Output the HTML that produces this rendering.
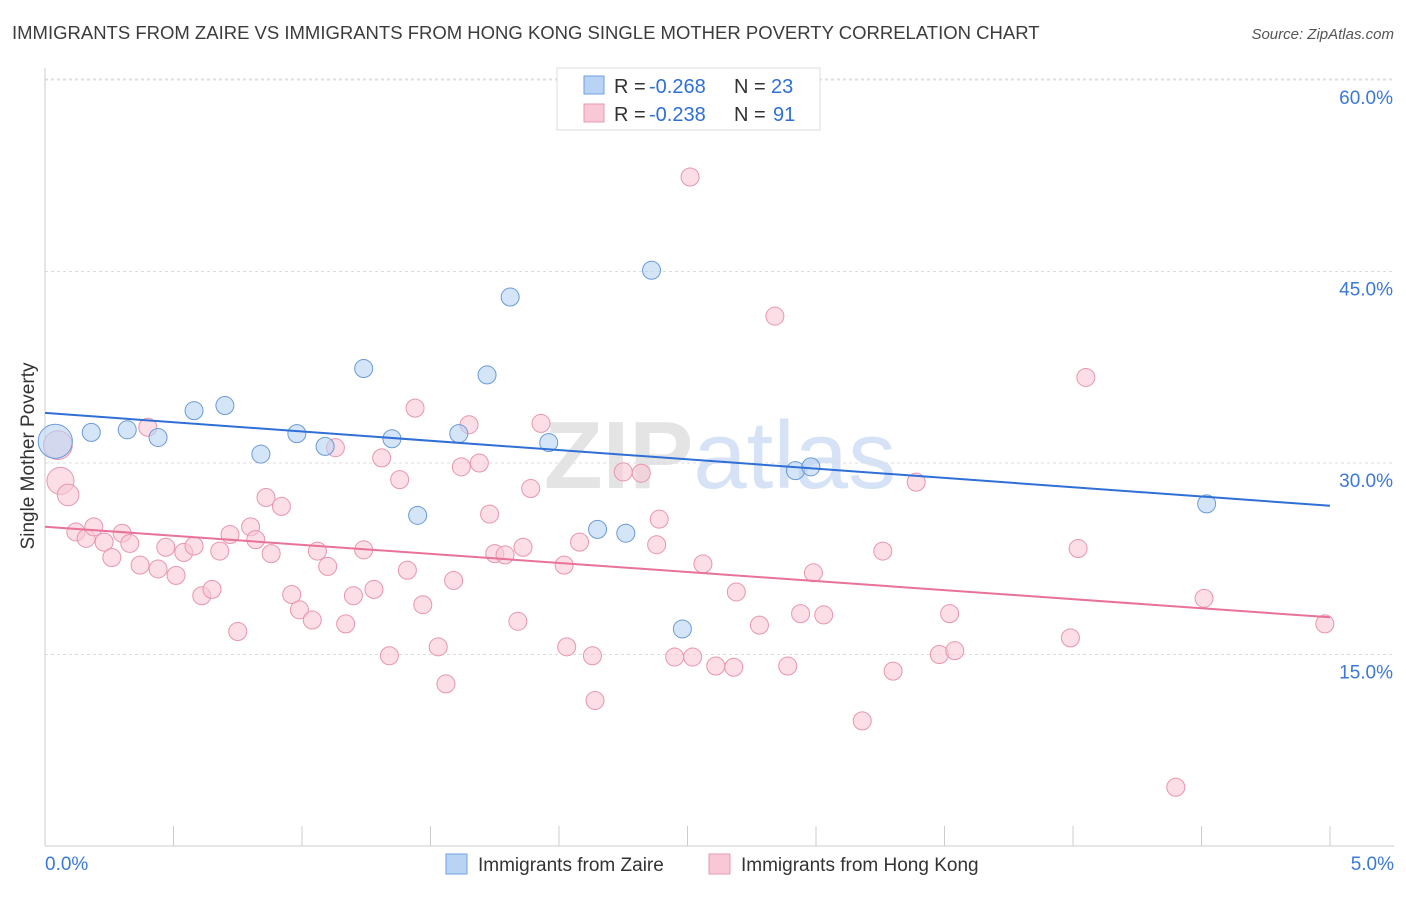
<!DOCTYPE html>
<html><head><meta charset="utf-8"><style>
body{margin:0;background:#fff;font-family:"Liberation Sans",sans-serif;}
svg text{font-family:"Liberation Sans",sans-serif;}
</style></head><body>
<svg id="chart" width="1406" height="892" xmlns="http://www.w3.org/2000/svg">
<text x="12" y="39" font-size="18.5" fill="#3c3c3c">IMMIGRANTS FROM ZAIRE VS IMMIGRANTS FROM HONG KONG SINGLE MOTHER POVERTY CORRELATION CHART</text>
<text x="1394" y="39" font-size="15" fill="#555" font-style="italic" text-anchor="end">Source: ZipAtlas.com</text>
<text x="720" y="488" font-size="96" fill="#e4e4e4" text-anchor="middle" font-family="Liberation Serif"><tspan font-weight="bold">ZIP</tspan><tspan fill="#d6e2f5" font-family="Liberation Sans">atlas</tspan></text>
<g id="grid"></g><g id="axes"></g><g id="pts"></g><g id="lines"></g>
<text transform="translate(34,456) rotate(-90)" font-size="19" fill="#333" text-anchor="middle">Single Mother Poverty</text>
<g>
<rect x="557" y="68" width="263" height="62" fill="#fff" stroke="#ddd"/>
<rect x="584" y="76" width="20" height="18" fill="#b9d3f4" stroke="#6fa0e0"/>
<rect x="584" y="104" width="20" height="18" fill="#f9c8d6" stroke="#e89ab2"/>
<text x="614" y="93" font-size="20" fill="#333">R = </text><text x="649" y="93" font-size="20" fill="#2f6fd6">-0.268</text>
<text x="734" y="93" font-size="20" fill="#333">N = </text><text x="771" y="93" font-size="20" fill="#2f6fd6">23</text>
<text x="614" y="121" font-size="20" fill="#333">R = </text><text x="649" y="121" font-size="20" fill="#2f6fd6">-0.238</text>
<text x="734" y="121" font-size="20" fill="#333">N = </text><text x="773" y="121" font-size="20" fill="#2f6fd6">91</text>
</g>
<g>
<rect x="446" y="854" width="21" height="20" fill="#b9d3f4" stroke="#6fa0e0"/>
<text x="478" y="871" font-size="19" fill="#333">Immigrants from Zaire</text>
<rect x="709" y="854" width="21" height="20" fill="#f9c8d6" stroke="#e89ab2"/>
<text x="741" y="871" font-size="19" fill="#333">Immigrants from Hong Kong</text>
</g>
</svg>
<script>
const xTicks=[0,0.5,1,1.5,2,2.5,3,3.5,4,4.5,5];
const yTicks=[15,30,45,60];
const zaireX=[0.04,0.18,0.32,0.44,0.58,0.7,0.84,0.98,1.09,1.24,1.35,1.45,1.61,1.72,1.81,1.96,2.15,2.26,2.36,2.48,2.92,2.98,4.52];
const zaireY=[31.7,32.4,32.6,32.0,34.1,34.5,30.7,32.3,31.3,37.4,31.9,25.9,32.3,36.9,43.0,31.6,24.8,24.5,45.1,17.0,29.4,29.7,26.8];
const hkX=[0.05,0.06,0.09,0.12,0.16,0.19,0.23,0.26,0.3,0.33,0.37,0.4,0.44,0.47,0.51,0.54,0.58,0.61,0.65,0.68,0.72,0.75,0.8,0.82,0.86,0.88,0.92,0.96,0.99,1.04,1.06,1.1,1.13,1.17,1.2,1.24,1.28,1.31,1.34,1.38,1.41,1.44,1.47,1.53,1.56,1.59,1.62,1.65,1.69,1.73,1.75,1.79,1.84,1.86,1.89,1.93,2.02,2.03,2.08,2.13,2.14,2.25,2.32,2.38,2.39,2.45,2.51,2.52,2.56,2.61,2.68,2.69,2.78,2.84,2.89,2.99,2.94,3.03,3.18,3.26,3.30,3.39,3.48,3.52,3.54,3.99,4.02,4.05,4.40,4.51,4.98];
const hkY=[31.4,28.6,27.5,24.6,24.1,25.0,23.8,22.6,24.5,23.7,22.0,32.8,21.7,23.4,21.2,23.0,23.5,19.6,20.1,23.1,24.4,16.8,25.0,24.0,27.3,22.9,26.6,19.7,18.5,17.7,23.1,21.9,31.2,17.4,19.6,23.2,20.1,30.4,14.9,28.7,21.6,34.3,18.9,15.6,12.7,20.8,29.7,33.0,30.0,26.0,22.9,22.8,17.6,23.4,28.0,33.1,22.0,15.6,23.8,14.9,11.4,29.3,29.2,23.6,25.6,14.8,52.4,14.8,22.1,14.1,14.0,19.9,17.3,41.5,14.1,21.4,18.2,18.1,9.8,23.1,13.7,28.5,15.0,18.2,15.3,16.3,23.3,36.7,4.6,19.4,17.4];
const sizes0={0:1.9}, sizes1={0:1.6,1:1.5,2:1.2};
const X0=45,X1=1330,YB=846,YS=191.5/15;
const xs=v=>X0+(X1-X0)*v/5, ys=v=>YB-v*YS;
const NS="http://www.w3.org/2000/svg";
function mk(tag,attrs,parent){const e=document.createElementNS(NS,tag);for(const k in attrs)e.setAttribute(k,attrs[k]);parent.appendChild(e);return e;}
const grid=document.getElementById('grid'),axes=document.getElementById('axes');
yTicks.forEach(t=>{
 const l=mk('line',{x1:45,x2:1394,y1:ys(t),y2:ys(t),stroke:'#ddd','stroke-dasharray':'3,3'},grid);
 
 
 const tx=mk('text',{x:1393,y:ys(t)+24,'font-size':19,fill:'#3b78d8','text-anchor':'end'},axes);
 tx.textContent=t.toFixed(1)+'%';
 
 
});
const topg=mk('line',{x1:45,x2:1394,y1:79,y2:79,stroke:'#ddd','stroke-dasharray':'3,3'},grid);


const ax=mk('line',{x1:45,x2:1394,y1:846,y2:846,stroke:'#ccc'},axes);


const ay=mk('line',{x1:45,x2:45,y1:68,y2:846,stroke:'#ccc'},axes);


xTicks.forEach(t=>{
 const l=mk('line',{x1:xs(t),x2:xs(t),y1:826,y2:846,stroke:'#ccc'},axes);
 
 
});
[[0,'start',45],[5,'end',1394]].forEach(([v,a,x])=>{
 const tx=mk('text',{x:x,y:870,'font-size':19,fill:'#3b78d8','text-anchor':a},axes);
 tx.textContent=v.toFixed(1)+'%';
 
 
});
const pts=document.getElementById('pts');
hkX.forEach((v,i)=>{
 const r=9*(sizes1[i]||1);
 const c=mk('circle',{cx:xs(v),cy:ys(hkY[i]),r:r,fill:'#f9c8d6','fill-opacity':0.6,stroke:'#e995b0','stroke-width':1},pts);
 
 
});
zaireX.forEach((v,i)=>{
 const r=9*(sizes0[i]||1);
 const c=mk('circle',{cx:xs(v),cy:ys(zaireY[i]),r:r,fill:'#b9d3f4','fill-opacity':0.6,stroke:'#6a9ad8','stroke-width':1},pts);
 
 
});
function fit(X,Y){const n=X.length,mx=X.reduce((a,b)=>a+b)/n,my=Y.reduce((a,b)=>a+b)/n;let sxy=0,sxx=0;X.forEach((x,i)=>{sxy+=(x-mx)*(Y[i]-my);sxx+=(x-mx)**2});const b=sxy/sxx;return [my-b*mx,b];}
const lines=document.getElementById('lines');
[[zaireX,zaireY,'#2f6fd6','zaire-trendline'],[hkX,hkY,'#e8729a','hongkong-trendline']].forEach(([X,Y,col,nm])=>{
 const [a,b]=fit(X,Y);
 const l=mk('line',{x1:xs(0),y1:ys(a),x2:xs(5),y2:ys(a+5*b),stroke:col,'stroke-width':2},lines);
 
 
});
</script>
</body></html>
